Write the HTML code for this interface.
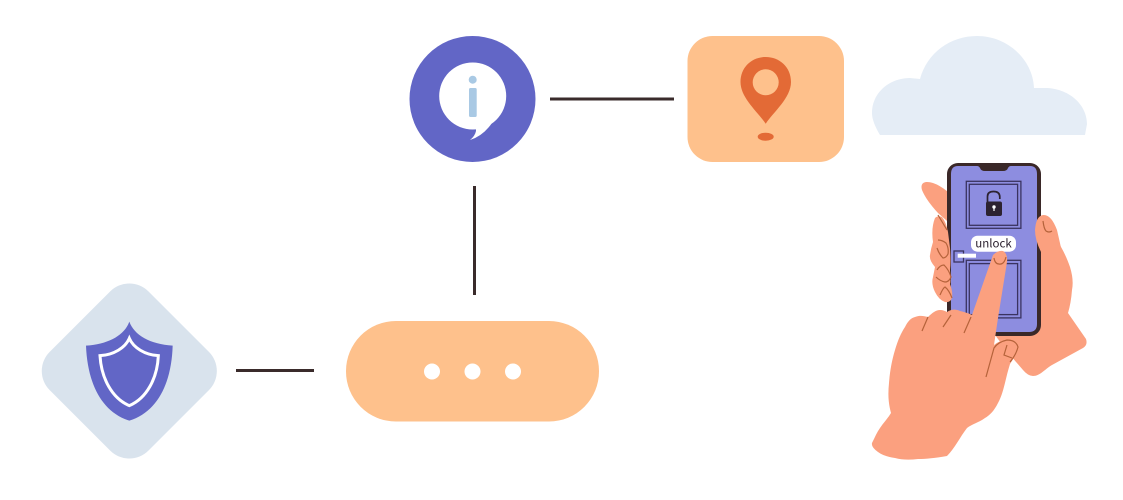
<!DOCTYPE html>
<html>
<head>
<meta charset="utf-8">
<style>
html,body{margin:0;padding:0;background:#fff;width:1123px;height:500px;overflow:hidden}
svg{display:block}
</style>
</head>
<body>
<svg width="1123" height="500" viewBox="0 0 1123 500" xmlns="http://www.w3.org/2000/svg">
<rect width="1123" height="500" fill="#fff"/>

<!-- connectors -->
<g stroke="#3a2b2b" stroke-width="3" fill="none">
<path d="M550 99H674"/>
<path d="M474.500 186V295"/>
<path d="M236 370.500H314"/>
</g>

<!-- info circle -->
<circle cx="472.500" cy="99" r="63" fill="#6266c6"/>
<circle cx="472.700" cy="96" r="33.500" fill="#fff"/>
<path d="M476 127L476 131Q475 136 470 140Q483 136 492 123Z" fill="#fff"/>
<circle cx="472.700" cy="79.700" r="4" fill="#a9c9e4"/>
<rect x="469" y="88" width="7.700" height="29" rx="1.500" fill="#a9c9e4"/>

<!-- location -->
<rect x="687.500" y="36" width="156.500" height="126" rx="25" fill="#fec18c"/>
<path d="M765.700 123.700C758 112 740.500 98 740.500 82C740.500 67 752 57 765.700 57C779.400 57 791 67 791 82C791 98 773.400 112 765.700 123.700Z" fill="#e36a36"/>
<circle cx="765.700" cy="82.300" r="13" fill="#fec18c"/>
<ellipse cx="765.700" cy="136.700" rx="8" ry="4" fill="#e36a36"/>

<!-- cloud -->
<path d="M880 135C874 125 872 118 872 113C872 92 890 78 910 78L920 79C927 53 950 36 977 36C1008 36 1033 60 1034 88L1045 88C1068 88 1087 104 1087 124L1085 135Z" fill="#e5edf6"/>

<!-- blob -->
<rect x="346" y="321" width="253" height="100.500" rx="50" fill="#fec18c"/>
<circle cx="432" cy="371.500" r="8" fill="#fff"/>
<circle cx="472.500" cy="371.500" r="8" fill="#fff"/>
<circle cx="513" cy="371.500" r="8" fill="#fff"/>

<!-- shield -->
<rect x="59.500" y="301.200" width="139.600" height="139.600" rx="27" transform="rotate(45 129.300 371)" fill="#d9e3ed"/>
<g transform="translate(30 275) scale(.33333)">
<path d="M298 140C312 180 360 208 428 212C425 320 385 410 298 437C212 410 172 320 168 212C236 208 284 180 298 140Z" fill="#6266c6"/>
<path d="M298 190C310 218 345 240 385 242C382 310 350 370 298 392C246 370 214 310 210 242C251 240 286 218 298 190Z" fill="none" stroke="#fff" stroke-width="9"/>
</g>

<!-- back hand -->
<path d="M1030 240H1057C1063 250 1067 258 1070 267Q1074 280 1072 290Q1071 303 1068 313L1086 339Q1088 345 1083 348L1052 365C1045 369 1040 376 1033 376Q1028 376 1023 370L1010 355L995 335L1030 325Z" fill="#fba07f"/>
<!-- top left finger -->
<path d="M922 190Q920 183 926 182Q937 181 955 198L955 228L938 213Q926 200 922 190Z" fill="#fba07f"/>

<!-- phone -->
<rect x="947" y="163" width="94" height="173" rx="11" fill="#3a2828"/>
<path d="M958 166H977Q979 166 980 168Q981 171 985 171H1003Q1007 171 1008 168Q1009 166 1011 166H1030Q1037 166 1037 174V324Q1037 332 1029 332H959Q951 332 951 324V174Q951 166 958 166Z" fill="#8d8de0"/>
<g fill="none" stroke="#3a3360" stroke-width="1.300">
<rect x="966.300" y="181.300" width="54.600" height="47"/>
<rect x="969.300" y="184.300" width="48.300" height="41"/>
<rect x="966.300" y="260.300" width="54.600" height="57.600"/>
<rect x="969.300" y="263.600" width="48.300" height="51"/>
<rect x="954" y="251" width="9.500" height="11"/>
</g>
<path d="M951 256L947 258.500L951 261Z" fill="#3a2828"/>
<rect x="957.700" y="253.700" width="18.300" height="4" fill="#fff"/>
<path d="M987.500 203V196.500Q987.500 191.500 993.500 191.500Q999.800 191.500 999.800 197V199" fill="none" stroke="#2c2230" stroke-width="1.700"/>
<rect x="986" y="201.500" width="16" height="14.500" rx="2" fill="#2c2230"/>
<circle cx="994" cy="207" r="1.700" fill="#fff"/>
<rect x="993.400" y="207" width="1.200" height="4" fill="#fff"/>
<rect x="971" y="235.700" width="45" height="16" rx="6.500" fill="#fff"/>
<text x="993.500" y="247.700" text-anchor="middle" font-family="'Noto Sans CJK JP','Liberation Sans',sans-serif" font-size="11.500" fill="#2c2230">unlock</text>

<!-- right finger over phone -->
<path d="M1041 252Q1035 240 1035 230Q1036 216 1043 215Q1051 214 1057 230L1062 252Z" fill="#fba07f"/>
<path d="M1043 221Q1044 229 1046 231Q1049 233 1052 231" fill="none" stroke="#b5623a" stroke-width="1.200"/>

<!-- left fingers -->
<path d="M935 218Q938 215 942 217Q946 222 948 232L950 248Q951 262 950 270Q951 282 950 284Q953 292 952 298Q950 303 945 302Q939 300 935 292Q931 284 933 277Q934 272 935 267Q929 260 930 255Q931 248 933 242Q931 228 935 218Z" fill="#fba07f"/>
<g fill="none" stroke="#b5623a" stroke-width="1.200">
<path d="M938 215L947 230"/>
<path d="M938 240Q942 240 946 243Q949 248 948 254Q946 258 943 258Q939 254 937 248"/>
<path d="M937 270Q940 265 944 265Q949 270 951 277Q949 282 945 282Q940 281 936 277"/>
<path d="M940 295Q943 288 945 287Q949 290 952 298"/>
</g>

<!-- front hand -->
<path d="M993 255Q998 250 1003 251Q1008 254 1007 262L998 318L994 345Q1000 340 1007 340Q1016 340 1018 347Q1016 355 1010 364C1005 380 1004 392 998 403C994 411 990 415 985 418C978 423 972 424 967 428C960 437 955 448 947 456C935 458 926 459 918 459C910 460 902 460 895 458C888 457 882 455 878 452Q871 447 872 443C875 437 877 432 880 428C884 422 888 418 891 413C888 402 888 393 889 383C890 370 892 360 895 350C898 340 901 333 905 327C908 321 911 318 915 317C920 315 924 316 928 317C932 313 936 310 940 310C943 310 945 311 947 312C951 309 956 309 960 311C964 312 968 313 972 315Z" fill="#fba07f"/>
<g fill="none" stroke="#b5623a" stroke-width="1.200">
<path d="M994 258Q995 264 999 264Q1004 265 1006 257"/>
<path d="M928 317L922 331"/>
<path d="M951 315L943 327"/>
<path d="M971 317L964 333"/>
<path d="M986 377L994 348Q998 342 1007 340Q1016 340 1018 347Q1016 355 1010 362"/>
<path d="M1007 345L1004 355L1012 358"/>
</g>
</svg>
</body>
</html>
